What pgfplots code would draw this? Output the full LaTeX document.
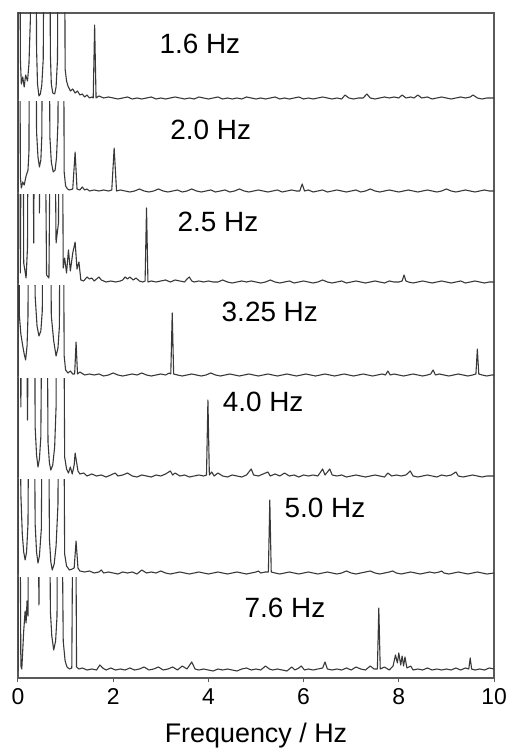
\documentclass[border=0pt]{standalone}
\usepackage{pgfplots}
\pgfplotsset{compat=1.18}
\usepackage{fontspec}
\setmainfont{Liberation Sans}
\definecolor{spec}{HTML}{383838}
\definecolor{frame}{HTML}{5A5A5A}
\begin{document}
\begin{tikzpicture}
\begin{axis}[name=ax, scale only axis, width=476bp, height=665bp,
  xmin=0, xmax=10, ymin=0, ymax=665,
  ytick=\empty, xtick={0,2,4,6,8,10},
  axis line style={draw=frame, line width=1.3bp},
  tick style={draw=frame, line width=1bp}, major tick length=4bp, tick align=outside,
  xtick pos=bottom,
  /pgf/number format/assume math mode=true,
  xticklabel style={font=\fontsize{23}{27}\selectfont, anchor=base, yshift=-22bp},
  xlabel={Frequency / Hz},
  xlabel style={font=\fontsize{27}{32}\selectfont, anchor=base, at={(axis description cs:0.5,-0.097)}},
  cycle list={{draw=spec, solid, mark=none}},
  every axis plot post/.append style={draw=spec, line width=1.1bp, line join=round, mark=none},
  clip=true]
% Panel 1 : 1.6 Hz
\begin{scope}
\clip (axis cs:-1,576) rectangle (axis cs:11,700);
\addplot table[row sep=\\, y expr=\thisrow{y}+579] {x y\\
0 0\\0.01 300\\0.035 300\\0.05 40\\0.07 15\\0.1 22\\0.13 12\\0.16 24\\0.2 18\\0.23 35\\0.26 80\\0.28 300\\0.37 300\\0.39 50\\0.41 15\\0.44 3\\0.47 5\\0.5 14\\0.53 40\\0.56 300\\0.66 300\\0.68 45\\0.7 15\\0.73 6\\0.77 5\\0.8 12\\0.83 40\\0.85 300\\0.97 300\\0.99 30\\1.02 18\\1.05 13\\1.1 8\\1.15 10\\1.2 6\\1.25 8\\1.3 4\\1.35 5\\1.4 2\\1.45 4\\1.5 1\\1.55 2\\1.58 1\\1.61 74\\1.64 1\\1.7 3\\1.8 1\\1.9 2\\2.0 1\\2.1 0\\2.2 1\\2.3 2\\2.4 0\\2.5 1\\2.6 0\\2.7 1\\2.8 2\\2.9 0\\3.0 1\\3.1 0\\3.2 1\\3.3 2\\3.4 1\\3.5 0\\3.6 1\\3.7 0\\3.8 2\\3.9 1\\4.0 0\\4.1 1\\4.2 2\\4.3 0\\4.4 1\\4.5 0\\4.6 1\\4.7 0\\4.8 2\\4.9 1\\5.0 0\\5.1 1\\5.2 0\\5.3 1\\5.4 2\\5.5 0\\5.6 1\\5.7 0\\5.8 1\\5.9 2\\6.0 0\\6.1 1\\6.2 0\\6.3 1\\6.4 2\\6.5 1\\6.6 0\\6.7 1\\6.8 0\\6.87 4\\6.95 1\\7.05 0\\7.15 1\\7.25 1\\7.33 5\\7.4 1\\7.5 0\\7.6 1\\7.7 2\\7.8 1\\7.9 2\\8.0 1\\8.07 4\\8.15 1\\8.25 2\\8.32 1\\8.4 4\\8.48 1\\8.6 2\\8.7 0\\8.8 1\\8.9 2\\9.0 1\\9.1 0\\9.2 1\\9.3 2\\9.4 1\\9.5 2\\9.56 4\\9.65 1\\9.75 0\\9.85 1\\10 1\\
};
\end{scope}
% Panel 2 : 2.0 Hz
\begin{scope}
\clip (axis cs:-1,483) rectangle (axis cs:11,576);
\addplot table[row sep=\\, y expr=\thisrow{y}+486] {x y\\
0 0\\0.01 300\\0.03 300\\0.05 15\\0.07 4\\0.1 10\\0.13 7\\0.17 16\\0.21 22\\0.23 40\\0.25 300\\0.37 300\\0.39 60\\0.42 35\\0.45 25\\0.48 32\\0.5 55\\0.53 300\\0.64 300\\0.67 55\\0.7 30\\0.74 20\\0.78 22\\0.81 35\\0.84 70\\0.86 300\\0.95 300\\0.97 20\\1.0 6\\1.04 3\\1.08 2\\1.15 3\\1.2 40\\1.24 3\\1.3 2\\1.35 5\\1.4 2\\1.45 3\\1.5 1\\1.6 2\\1.7 1\\1.8 2\\1.9 1\\1.97 2\\2.02 44\\2.07 1\\2.15 2\\2.25 1\\2.35 0\\2.45 1\\2.55 3\\2.65 1\\2.75 0\\2.85 1\\2.95 3\\3.05 1\\3.15 0\\3.25 1\\3.35 2\\3.45 0\\3.55 1\\3.65 3\\3.75 1\\3.85 0\\3.95 1\\4.05 2\\4.15 0\\4.25 1\\4.35 2\\4.45 0\\4.55 1\\4.65 3\\4.75 1\\4.85 0\\4.95 1\\5.05 2\\5.15 1\\5.25 0\\5.35 1\\5.45 2\\5.55 0\\5.65 1\\5.75 2\\5.85 1\\5.92 1\\5.97 8\\6.02 1\\6.1 2\\6.2 0\\6.3 1\\6.4 2\\6.5 0\\6.6 1\\6.7 2\\6.8 1\\6.9 0\\7.0 1\\7.1 2\\7.2 0\\7.3 1\\7.4 3\\7.5 1\\7.6 0\\7.7 1\\7.8 2\\7.9 1\\8.0 0\\8.1 1\\8.2 2\\8.3 1\\8.4 0\\8.5 1\\8.6 2\\8.7 1\\8.8 0\\8.9 1\\9.0 3\\9.1 1\\9.2 0\\9.3 1\\9.4 2\\9.5 1\\9.6 0\\9.7 1\\9.8 2\\9.9 1\\10 1\\
};
\end{scope}
% Panel 3 : 2.5 Hz
\begin{scope}
\clip (axis cs:-1,392) rectangle (axis cs:11,483);
\addplot table[row sep=\\, y expr=\thisrow{y}+395] {x y\\
0 0\\0.01 300\\0.03 300\\0.05 10\\0.08 300\\0.1 300\\0.12 20\\0.17 5\\0.2 36\\0.22 300\\0.3 300\\0.33 40\\0.36 300\\0.42 300\\0.45 70\\0.48 300\\0.55 300\\0.6 8\\0.65 5\\0.7 300\\0.75 300\\0.8 40\\0.85 60\\0.88 300\\0.92 300\\0.95 15\\0.98 25\\1.02 10\\1.06 33\\1.1 12\\1.15 30\\1.2 41\\1.24 14\\1.28 21\\1.32 3\\1.38 2\\1.45 6\\1.5 4\\1.55 5\\1.6 2\\1.7 6\\1.75 3\\1.85 1\\1.95 2\\2.05 1\\2.15 2\\2.2 3\\2.25 6\\2.3 4\\2.35 6\\2.42 3\\2.48 5\\2.55 2\\2.62 1\\2.67 2\\2.7 75\\2.73 1\\2.8 2\\2.9 1\\3.0 2\\3.1 3\\3.2 1\\3.3 3\\3.4 2\\3.5 1\\3.55 4\\3.6 6\\3.65 2\\3.7 1\\3.8 2\\3.9 1\\4.0 2\\4.1 1\\4.2 1\\4.3 3\\4.4 1\\4.5 0\\4.6 1\\4.7 2\\4.8 1\\4.9 2\\5.0 1\\5.1 0\\5.2 1\\5.3 3\\5.4 1\\5.5 0\\5.6 1\\5.7 2\\5.8 0\\5.9 1\\6.0 2\\6.1 1\\6.2 0\\6.3 1\\6.4 3\\6.5 1\\6.6 0\\6.7 1\\6.8 2\\6.9 0\\7.0 1\\7.1 2\\7.2 1\\7.3 0\\7.4 1\\7.5 2\\7.6 1\\7.7 0\\7.8 2\\7.9 1\\8.0 1\\8.07 2\\8.11 8\\8.15 2\\8.2 1\\8.3 0\\8.4 1\\8.5 2\\8.6 1\\8.7 0\\8.8 1\\8.9 2\\9.0 1\\9.1 0\\9.2 1\\9.3 2\\9.4 0\\9.5 1\\9.6 2\\9.7 1\\9.8 0\\9.9 1\\10 1\\
};
\end{scope}
% Panel 4 : 3.25 Hz
\begin{scope}
\clip (axis cs:-1,299) rectangle (axis cs:11,392);
\addplot table[row sep=\\, y expr=\thisrow{y}+302] {x y\\
0 0\\0.01 300\\0.03 60\\0.06 42\\0.1 30\\0.13 22\\0.16 16\\0.19 30\\0.21 60\\0.23 300\\0.32 300\\0.36 80\\0.4 50\\0.44 40\\0.48 45\\0.51 65\\0.54 300\\0.66 300\\0.7 60\\0.75 35\\0.8 20\\0.84 28\\0.87 50\\0.89 300\\0.94 300\\0.97 20\\1.0 6\\1.05 3\\1.1 5\\1.15 2\\1.19 2\\1.22 34\\1.25 2\\1.3 4\\1.4 1\\1.5 2\\1.6 1\\1.7 2\\1.8 0\\1.9 1\\2.0 3\\2.1 1\\2.2 0\\2.3 1\\2.4 2\\2.5 1\\2.6 3\\2.7 1\\2.8 0\\2.9 1\\3.0 2\\3.1 1\\3.18 3\\3.21 2\\3.24 63\\3.27 2\\3.35 1\\3.45 0\\3.55 1\\3.65 2\\3.75 1\\3.85 0\\3.95 1\\4.05 3\\4.15 1\\4.25 0\\4.35 1\\4.45 2\\4.55 1\\4.65 0\\4.75 1\\4.85 2\\4.95 1\\5.05 0\\5.15 1\\5.25 2\\5.35 1\\5.45 0\\5.55 1\\5.65 2\\5.75 1\\5.85 0\\5.95 1\\6.05 2\\6.15 1\\6.25 0\\6.35 1\\6.45 2\\6.55 1\\6.65 0\\6.75 1\\6.85 2\\6.95 1\\7.05 0\\7.15 1\\7.25 2\\7.35 1\\7.45 0\\7.55 1\\7.65 2\\7.72 1\\7.77 5\\7.82 1\\7.9 2\\8.0 1\\8.1 0\\8.2 1\\8.3 2\\8.4 1\\8.5 0\\8.6 1\\8.67 2\\8.72 6\\8.77 1\\8.85 2\\8.95 1\\9.05 0\\9.15 1\\9.25 2\\9.35 1\\9.45 0\\9.55 1\\9.62 2\\9.65 27\\9.68 2\\9.75 1\\9.85 0\\9.95 1\\10 1\\
};
\end{scope}
% Panel 5 : 4.0 Hz
\begin{scope}
\clip (axis cs:-1,198) rectangle (axis cs:11,299);
\addplot table[row sep=\\, y expr=\thisrow{y}+201] {x y\\
0 0\\0.01 300\\0.03 300\\0.06 70\\0.1 300\\0.15 300\\0.2 57\\0.24 300\\0.34 300\\0.36 50\\0.39 22\\0.42 10\\0.45 18\\0.48 40\\0.52 300\\0.6 300\\0.63 35\\0.66 14\\0.69 7\\0.73 12\\0.77 30\\0.8 70\\0.82 300\\0.95 300\\0.98 20\\1.02 8\\1.06 4\\1.1 10\\1.14 3\\1.18 12\\1.2 24\\1.23 15\\1.26 6\\1.3 3\\1.38 4\\1.45 1\\1.55 3\\1.65 1\\1.75 2\\1.85 0\\1.95 2\\2.04 4\\2.1 1\\2.2 2\\2.3 4\\2.4 1\\2.5 0\\2.6 2\\2.7 1\\2.8 0\\2.9 2\\3.0 1\\3.1 3\\3.2 6\\3.25 2\\3.3 4\\3.4 1\\3.5 2\\3.6 0\\3.7 1\\3.8 2\\3.9 1\\3.96 2\\3.99 77\\4.02 2\\4.07 5\\4.12 1\\4.2 4\\4.3 1\\4.4 0\\4.5 2\\4.6 1\\4.7 0\\4.8 2\\4.9 8\\4.95 2\\5.05 1\\5.15 3\\5.25 5\\5.3 1\\5.4 3\\5.5 1\\5.6 4\\5.7 1\\5.8 2\\5.9 0\\6.0 2\\6.1 1\\6.2 2\\6.3 1\\6.4 8\\6.45 2\\6.55 8\\6.6 2\\6.7 1\\6.8 2\\6.9 0\\7.0 1\\7.1 2\\7.2 1\\7.3 0\\7.4 1\\7.5 2\\7.6 1\\7.7 0\\7.77 4\\7.85 1\\7.95 2\\8.05 1\\8.15 2\\8.24 6\\8.3 1\\8.4 0\\8.5 1\\8.6 2\\8.7 1\\8.8 0\\8.9 2\\9.0 1\\9.1 2\\9.2 5\\9.25 1\\9.35 0\\9.45 1\\9.55 2\\9.65 1\\9.75 0\\9.85 1\\10 1\\
};
\end{scope}
% Panel 6 : 5.0 Hz
\begin{scope}
\clip (axis cs:-1,101) rectangle (axis cs:11,198);
\addplot table[row sep=\\, y expr=\thisrow{y}+104] {x y\\
0 0\\0.01 300\\0.03 300\\0.06 80\\0.09 40\\0.12 22\\0.15 14\\0.18 22\\0.21 50\\0.24 300\\0.33 300\\0.36 50\\0.39 22\\0.42 11\\0.45 18\\0.49 45\\0.53 300\\0.63 300\\0.66 35\\0.69 12\\0.72 4\\0.76 10\\0.8 28\\0.84 70\\0.86 300\\0.95 300\\0.98 20\\1.02 8\\1.08 4\\1.14 5\\1.18 6\\1.22 33\\1.26 6\\1.3 3\\1.4 2\\1.5 3\\1.6 1\\1.7 2\\1.75 4\\1.8 1\\1.9 2\\2.0 1\\2.1 0\\2.2 2\\2.3 1\\2.4 2\\2.5 0\\2.6 4\\2.7 1\\2.8 2\\2.9 1\\3.0 3\\3.1 1\\3.2 0\\3.3 1\\3.4 2\\3.5 1\\3.6 0\\3.7 1\\3.8 2\\3.9 1\\4.0 0\\4.1 1\\4.2 2\\4.3 1\\4.4 0\\4.5 1\\4.6 2\\4.7 1\\4.8 0\\4.9 1\\5.0 2\\5.05 3\\5.1 1\\5.2 2\\5.26 2\\5.29 74\\5.32 2\\5.4 1\\5.5 0\\5.6 1\\5.7 2\\5.8 1\\5.9 0\\6.0 1\\6.1 2\\6.2 1\\6.3 0\\6.4 1\\6.5 2\\6.6 1\\6.7 0\\6.8 1\\6.9 3\\7.0 1\\7.1 0\\7.2 1\\7.3 2\\7.4 3\\7.5 1\\7.6 0\\7.7 1\\7.8 2\\7.87 3\\7.95 1\\8.05 0\\8.15 1\\8.25 2\\8.35 1\\8.45 0\\8.55 1\\8.65 2\\8.75 1\\8.85 2\\8.9 3\\8.95 1\\9.05 0\\9.15 1\\9.25 2\\9.35 1\\9.45 0\\9.55 1\\9.65 2\\9.75 1\\9.85 0\\10 1\\
};
\end{scope}
% Panel 7 : 7.6 Hz
\begin{scope}
\clip (axis cs:-1,0) rectangle (axis cs:11,101);
\addplot table[row sep=\\, y expr=\thisrow{y}+7] {x y\\
0 0\\0.01 300\\0.03 300\\0.06 5\\0.08 2\\0.12 40\\0.15 60\\0.17 48\\0.19 70\\0.21 55\\0.23 300\\0.4 300\\0.44 66\\0.47 300\\0.65 300\\0.68 60\\0.71 35\\0.75 21\\0.79 30\\0.82 55\\0.84 300\\0.9 300\\0.95 30\\0.99 10\\1.03 4\\1.08 2\\1.13 3\\1.17 300\\1.2 300\\1.23 4\\1.28 2\\1.35 3\\1.45 1\\1.55 2\\1.65 1\\1.72 6\\1.78 3\\1.85 1\\1.95 3\\2.05 1\\2.15 2\\2.25 1\\2.35 3\\2.45 1\\2.55 2\\2.65 4\\2.75 1\\2.85 2\\2.95 4\\3.05 1\\3.15 2\\3.25 4\\3.35 1\\3.45 5\\3.55 2\\3.65 9\\3.72 2\\3.8 1\\3.9 2\\4.0 1\\4.1 0\\4.2 2\\4.3 1\\4.4 2\\4.5 1\\4.6 0\\4.7 2\\4.8 3\\4.9 1\\5.0 2\\5.1 1\\5.2 5\\5.28 2\\5.35 1\\5.45 2\\5.55 1\\5.65 0\\5.75 4\\5.82 1\\5.9 3\\5.95 5\\6.02 1\\6.1 2\\6.2 1\\6.3 2\\6.4 3\\6.45 9\\6.5 2\\6.6 1\\6.7 2\\6.8 1\\6.9 3\\7.0 1\\7.1 4\\7.2 2\\7.3 1\\7.4 5\\7.48 2\\7.55 2\\7.58 63\\7.61 2\\7.7 4\\7.8 1\\7.88 5\\7.93 16\\7.97 8\\8.0 18\\8.04 6\\8.07 15\\8.1 5\\8.13 14\\8.17 3\\8.25 5\\8.3 1\\8.4 2\\8.5 1\\8.6 3\\8.7 1\\8.8 2\\8.9 1\\9.0 2\\9.1 1\\9.2 3\\9.3 1\\9.4 3\\9.47 2\\9.5 13\\9.53 2\\9.6 1\\9.7 2\\9.8 1\\9.9 3\\10 2\\
};
\end{scope}
\begin{scope}[every node/.style={font=\fontsize{28}{32}\selectfont, text=black, inner sep=0pt}]
\node at (axis cs:3.82,634) {1.6 Hz};
\node at (axis cs:4.05,548) {2.0 Hz};
\node at (axis cs:4.2,456) {2.5 Hz};
\node at (axis cs:5.29,366) {3.25 Hz};
\node at (axis cs:5.15,276) {4.0 Hz};
\node at (axis cs:6.45,170) {5.0 Hz};
\node at (axis cs:5.61,70) {7.6 Hz};
\end{scope}
\end{axis}
\pgfresetboundingbox
\path ([xshift=-18bp,yshift=-71bp]ax.south west) rectangle ([xshift=19bp,yshift=13bp]ax.north east);
\end{tikzpicture}
\end{document}
